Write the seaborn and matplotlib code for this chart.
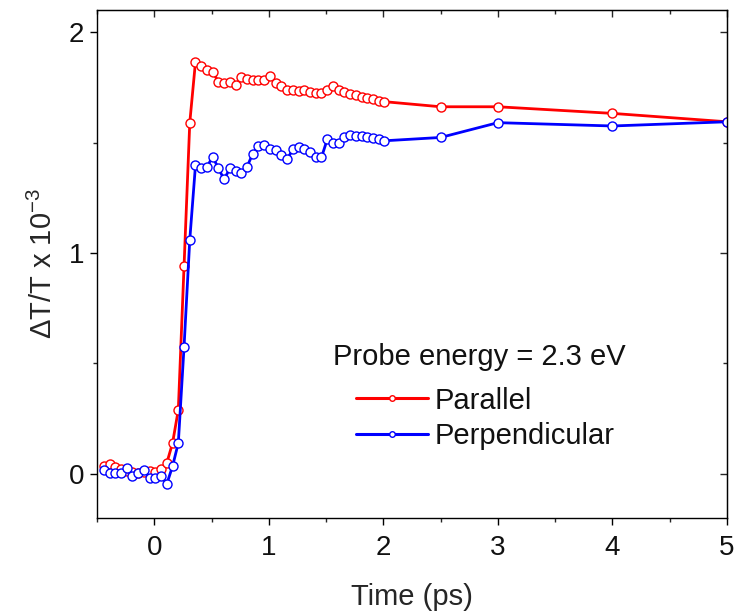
import numpy as np
import pandas as pd
import matplotlib
matplotlib.use("Agg")
import matplotlib.pyplot as plt
from matplotlib.ticker import MultipleLocator
import seaborn as sns

# ---- data ----
time_ps = [-0.44, -0.39, -0.34, -0.29, -0.24, -0.19, -0.14, -0.09, -0.04, 0.01,
           0.06, 0.11, 0.16, 0.21, 0.26, 0.31, 0.36, 0.41, 0.46, 0.51,
           0.56, 0.61, 0.66, 0.71, 0.76, 0.81, 0.86, 0.91, 0.96, 1.01,
           1.06, 1.11, 1.16, 1.21, 1.26, 1.31, 1.36, 1.41, 1.46, 1.51,
           1.56, 1.61, 1.66, 1.71, 1.76, 1.81, 1.86, 1.91, 1.96, 2.01,
           2.5, 3.0, 4.0, 5.0]

parallel = [0.035, 0.045, 0.03, 0.02, 0.015, 0.01, 0.005, 0.01, 0.015, 0.01,
            0.02, 0.05, 0.14, 0.29, 0.94, 1.59, 1.866, 1.846, 1.83, 1.82,
            1.775, 1.77, 1.775, 1.76, 1.795, 1.787, 1.783, 1.783, 1.783, 1.80,
            1.77, 1.754, 1.74, 1.74, 1.734, 1.738, 1.73, 1.726, 1.726, 1.738,
            1.757, 1.74, 1.73, 1.72, 1.715, 1.705, 1.70, 1.697, 1.69, 1.685,
            1.662, 1.662, 1.632, 1.594]

perpendicular = [0.018, 0.003, 0.003, 0.003, 0.026, -0.009, 0.003, 0.018, -0.02, -0.02,
                 -0.012, -0.045, 0.035, 0.14, 0.575, 1.06, 1.398, 1.383, 1.39, 1.436,
                 1.383, 1.333, 1.383, 1.371, 1.36, 1.39, 1.45, 1.484, 1.488, 1.469,
                 1.466, 1.443, 1.424, 1.469, 1.478, 1.469, 1.455, 1.436, 1.433, 1.514,
                 1.50, 1.50, 1.523, 1.534, 1.53, 1.53, 1.523, 1.519, 1.515, 1.508,
                 1.523, 1.59, 1.575, 1.594]

series_names = ["Parallel", "Perpendicular"]
series_colors = ["#ff0000", "#0000ff"]
legend_title = "Probe energy = 2.3 eV"
x_ticks = [0, 1, 2, 3, 4, 5]
y_ticks = [0, 1, 2]

# ---- style ----
sns.set_style("ticks")
plt.rcParams["font.family"] = ["Liberation Sans", "DejaVu Sans"]
plt.rcParams["mathtext.fontset"] = "custom"
plt.rcParams["mathtext.rm"] = "Liberation Sans"
plt.rcParams["mathtext.it"] = "Liberation Sans:italic"
plt.rcParams["text.color"] = "#111111"

fig = plt.figure(figsize=(7.37, 6.15), dpi=100)
ax = fig.add_axes([0.1316, 0.1577, 0.8548, 0.826])

df = pd.DataFrame({"t": time_ps, "Parallel": parallel, "Perpendicular": perpendicular})

for name, col in zip(series_names, series_colors):
    sns.lineplot(data=df, x="t", y=name, ax=ax, color=col, lw=2.0,
                 marker="o", markersize=6.5, markerfacecolor="white",
                 markeredgecolor=col, markeredgewidth=1.0,
                 estimator=None, sort=False, label=name)

ax.set_xlim(-0.5, 5)
ax.set_ylim(-0.2, 2.1)
ax.set_xticks(x_ticks)
ax.set_yticks(y_ticks)
ax.xaxis.set_minor_locator(MultipleLocator(0.5))
ax.yaxis.set_minor_locator(MultipleLocator(0.5))

ax.tick_params(which="major", direction="out", length=5, width=1, labelsize=20,
               colors="black", labelcolor="#111111")
ax.tick_params(axis="x", which="major", pad=7)
ax.tick_params(axis="y", which="major", pad=4)
ax.tick_params(which="minor", direction="out", length=3, width=1)

for s in ax.spines.values():
    s.set_linewidth(1.0)
    s.set_color("black")
    s.set_visible(True)

secx = ax.secondary_xaxis("top")
secx.set_xticks(x_ticks)
secx.xaxis.set_minor_locator(MultipleLocator(0.5))
secx.tick_params(which="major", direction="in", length=5, width=1, labeltop=False)
secx.tick_params(which="minor", direction="in", length=3, width=1)

secy = ax.secondary_yaxis("right")
secy.set_yticks(y_ticks)
secy.yaxis.set_minor_locator(MultipleLocator(0.5))
secy.tick_params(which="major", direction="in", length=5, width=1, labelright=False)
secy.tick_params(which="minor", direction="in", length=3, width=1)

ax.set_xlabel("Time (ps)", fontsize=21, labelpad=16)
ax.set_ylabel(r"ΔT/T x 10$^{-3}$", fontsize=21, labelpad=8)

ax.text(0.374, 0.317, legend_title, transform=ax.transAxes, fontsize=21,
        ha="left", va="center")
leg = ax.legend(loc="center left", bbox_to_anchor=(0.379, 0.196), frameon=False,
                fontsize=21, handlelength=2.45, handletextpad=0.25,
                labelspacing=0.26, numpoints=1, borderpad=0.2)
for h in leg.legend_handles:
    h.set_markersize(4)
    h.set_linewidth(2.2)

fig.savefig("out.png", dpi=100)
